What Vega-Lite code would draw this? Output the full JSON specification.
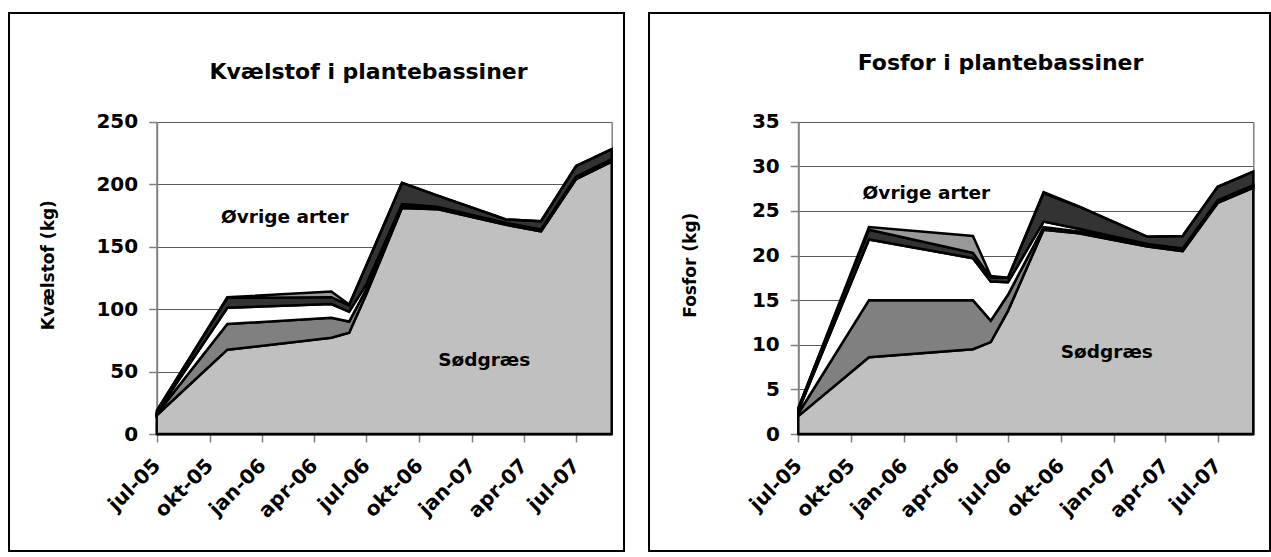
{
  "$schema": "https://vega.github.io/schema/vega-lite/v6.json",
  "background": "white",
  "padding": {"left": 8, "top": 12, "right": 0, "bottom": 0},
  "spacing": 23,
  "config": {
    "view": {"stroke": "#000000", "strokeWidth": 2},
    "font": "DejaVu Sans",
    "axis": {"labelFont": "DejaVu Sans", "titleFont": "DejaVu Sans", "labelColor": "#000000", "titleColor": "#000000"},
    "title": {"font": "DejaVu Sans", "color": "#000000"}
  },
  "datasets": {
    "kvaelstof": [
      {"dato": "2005/07/01", "art": "Sødgræs", "nr": 1, "kg": 15},
      {"dato": "2005/07/01", "art": "Art 2", "nr": 2, "kg": 1},
      {"dato": "2005/07/01", "art": "Art 3", "nr": 3, "kg": 1},
      {"dato": "2005/07/01", "art": "Art 4", "nr": 4, "kg": 1.5},
      {"dato": "2005/07/01", "art": "Art 5", "nr": 5, "kg": 0},
      {"dato": "2005/11/01", "art": "Sødgræs", "nr": 1, "kg": 67.5},
      {"dato": "2005/11/01", "art": "Art 2", "nr": 2, "kg": 20.5},
      {"dato": "2005/11/01", "art": "Art 3", "nr": 3, "kg": 13},
      {"dato": "2005/11/01", "art": "Art 4", "nr": 4, "kg": 8},
      {"dato": "2005/11/01", "art": "Art 5", "nr": 5, "kg": 0.5},
      {"dato": "2006/05/01", "art": "Sødgræs", "nr": 1, "kg": 77},
      {"dato": "2006/05/01", "art": "Art 2", "nr": 2, "kg": 16},
      {"dato": "2006/05/01", "art": "Art 3", "nr": 3, "kg": 11},
      {"dato": "2006/05/01", "art": "Art 4", "nr": 4, "kg": 5.5},
      {"dato": "2006/05/01", "art": "Art 5", "nr": 5, "kg": 4.5},
      {"dato": "2006/06/01", "art": "Sødgræs", "nr": 1, "kg": 81},
      {"dato": "2006/06/01", "art": "Art 2", "nr": 2, "kg": 9},
      {"dato": "2006/06/01", "art": "Art 3", "nr": 3, "kg": 8},
      {"dato": "2006/06/01", "art": "Art 4", "nr": 4, "kg": 5},
      {"dato": "2006/06/01", "art": "Art 5", "nr": 5, "kg": 0.6},
      {"dato": "2006/07/01", "art": "Sødgræs", "nr": 1, "kg": 112},
      {"dato": "2006/07/01", "art": "Art 2", "nr": 2, "kg": 4},
      {"dato": "2006/07/01", "art": "Art 3", "nr": 3, "kg": 4},
      {"dato": "2006/07/01", "art": "Art 4", "nr": 4, "kg": 15},
      {"dato": "2006/07/01", "art": "Art 5", "nr": 5, "kg": 0},
      {"dato": "2006/09/01", "art": "Sødgræs", "nr": 1, "kg": 181},
      {"dato": "2006/09/01", "art": "Art 2", "nr": 2, "kg": 1},
      {"dato": "2006/09/01", "art": "Art 3", "nr": 3, "kg": 2},
      {"dato": "2006/09/01", "art": "Art 4", "nr": 4, "kg": 17},
      {"dato": "2006/09/01", "art": "Art 5", "nr": 5, "kg": 0},
      {"dato": "2006/11/01", "art": "Sødgræs", "nr": 1, "kg": 180},
      {"dato": "2006/11/01", "art": "Art 2", "nr": 2, "kg": 0.5},
      {"dato": "2006/11/01", "art": "Art 3", "nr": 3, "kg": 1.5},
      {"dato": "2006/11/01", "art": "Art 4", "nr": 4, "kg": 9},
      {"dato": "2006/11/01", "art": "Art 5", "nr": 5, "kg": 0},
      {"dato": "2007/03/01", "art": "Sødgræs", "nr": 1, "kg": 167.5},
      {"dato": "2007/03/01", "art": "Art 2", "nr": 2, "kg": 0.5},
      {"dato": "2007/03/01", "art": "Art 3", "nr": 3, "kg": 1},
      {"dato": "2007/03/01", "art": "Art 4", "nr": 4, "kg": 2.7},
      {"dato": "2007/03/01", "art": "Art 5", "nr": 5, "kg": 0},
      {"dato": "2007/05/01", "art": "Sødgræs", "nr": 1, "kg": 162.3},
      {"dato": "2007/05/01", "art": "Art 2", "nr": 2, "kg": 0.5},
      {"dato": "2007/05/01", "art": "Art 3", "nr": 3, "kg": 1},
      {"dato": "2007/05/01", "art": "Art 4", "nr": 4, "kg": 6.6},
      {"dato": "2007/05/01", "art": "Art 5", "nr": 5, "kg": 0},
      {"dato": "2007/07/01", "art": "Sødgræs", "nr": 1, "kg": 204},
      {"dato": "2007/07/01", "art": "Art 2", "nr": 2, "kg": 0.5},
      {"dato": "2007/07/01", "art": "Art 3", "nr": 3, "kg": 1.5},
      {"dato": "2007/07/01", "art": "Art 4", "nr": 4, "kg": 8.5},
      {"dato": "2007/07/01", "art": "Art 5", "nr": 5, "kg": 0},
      {"dato": "2007/09/01", "art": "Sødgræs", "nr": 1, "kg": 218},
      {"dato": "2007/09/01", "art": "Art 2", "nr": 2, "kg": 0.5},
      {"dato": "2007/09/01", "art": "Art 3", "nr": 3, "kg": 1.5},
      {"dato": "2007/09/01", "art": "Art 4", "nr": 4, "kg": 8},
      {"dato": "2007/09/01", "art": "Art 5", "nr": 5, "kg": 0}
    ],
    "fosfor": [
      {"dato": "2005/07/01", "art": "Sødgræs", "nr": 1, "kg": 2.0},
      {"dato": "2005/07/01", "art": "Art 2", "nr": 2, "kg": 0.3},
      {"dato": "2005/07/01", "art": "Art 3", "nr": 3, "kg": 0.3},
      {"dato": "2005/07/01", "art": "Art 4", "nr": 4, "kg": 0.3},
      {"dato": "2005/07/01", "art": "Art 5", "nr": 5, "kg": 0},
      {"dato": "2005/11/01", "art": "Sødgræs", "nr": 1, "kg": 8.6},
      {"dato": "2005/11/01", "art": "Art 2", "nr": 2, "kg": 6.4},
      {"dato": "2005/11/01", "art": "Art 3", "nr": 3, "kg": 6.8},
      {"dato": "2005/11/01", "art": "Art 4", "nr": 4, "kg": 1.1},
      {"dato": "2005/11/01", "art": "Art 5", "nr": 5, "kg": 0.3},
      {"dato": "2006/05/01", "art": "Sødgræs", "nr": 1, "kg": 9.5},
      {"dato": "2006/05/01", "art": "Art 2", "nr": 2, "kg": 5.5},
      {"dato": "2006/05/01", "art": "Art 3", "nr": 3, "kg": 4.7},
      {"dato": "2006/05/01", "art": "Art 4", "nr": 4, "kg": 0.6},
      {"dato": "2006/05/01", "art": "Art 5", "nr": 5, "kg": 1.9},
      {"dato": "2006/06/01", "art": "Sødgræs", "nr": 1, "kg": 10.3},
      {"dato": "2006/06/01", "art": "Art 2", "nr": 2, "kg": 2.4},
      {"dato": "2006/06/01", "art": "Art 3", "nr": 3, "kg": 4.4},
      {"dato": "2006/06/01", "art": "Art 4", "nr": 4, "kg": 0.4},
      {"dato": "2006/06/01", "art": "Art 5", "nr": 5, "kg": 0.2},
      {"dato": "2006/07/01", "art": "Sødgræs", "nr": 1, "kg": 13.8},
      {"dato": "2006/07/01", "art": "Art 2", "nr": 2, "kg": 1.8},
      {"dato": "2006/07/01", "art": "Art 3", "nr": 3, "kg": 1.4},
      {"dato": "2006/07/01", "art": "Art 4", "nr": 4, "kg": 0.5},
      {"dato": "2006/07/01", "art": "Art 5", "nr": 5, "kg": 0},
      {"dato": "2006/09/01", "art": "Sødgræs", "nr": 1, "kg": 22.9},
      {"dato": "2006/09/01", "art": "Art 2", "nr": 2, "kg": 0.3},
      {"dato": "2006/09/01", "art": "Art 3", "nr": 3, "kg": 0.6},
      {"dato": "2006/09/01", "art": "Art 4", "nr": 4, "kg": 3.2},
      {"dato": "2006/09/01", "art": "Art 5", "nr": 5, "kg": 0.1},
      {"dato": "2006/11/01", "art": "Sødgræs", "nr": 1, "kg": 22.5},
      {"dato": "2006/11/01", "art": "Art 2", "nr": 2, "kg": 0.2},
      {"dato": "2006/11/01", "art": "Art 3", "nr": 3, "kg": 0.3},
      {"dato": "2006/11/01", "art": "Art 4", "nr": 4, "kg": 2.5},
      {"dato": "2006/11/01", "art": "Art 5", "nr": 5, "kg": 0},
      {"dato": "2007/03/01", "art": "Sødgræs", "nr": 1, "kg": 21.0},
      {"dato": "2007/03/01", "art": "Art 2", "nr": 2, "kg": 0.1},
      {"dato": "2007/03/01", "art": "Art 3", "nr": 3, "kg": 0.2},
      {"dato": "2007/03/01", "art": "Art 4", "nr": 4, "kg": 0.8},
      {"dato": "2007/03/01", "art": "Art 5", "nr": 5, "kg": 0},
      {"dato": "2007/05/01", "art": "Sødgræs", "nr": 1, "kg": 20.5},
      {"dato": "2007/05/01", "art": "Art 2", "nr": 2, "kg": 0.1},
      {"dato": "2007/05/01", "art": "Art 3", "nr": 3, "kg": 0.2},
      {"dato": "2007/05/01", "art": "Art 4", "nr": 4, "kg": 1.4},
      {"dato": "2007/05/01", "art": "Art 5", "nr": 5, "kg": 0},
      {"dato": "2007/07/01", "art": "Sødgræs", "nr": 1, "kg": 25.9},
      {"dato": "2007/07/01", "art": "Art 2", "nr": 2, "kg": 0.1},
      {"dato": "2007/07/01", "art": "Art 3", "nr": 3, "kg": 0.2},
      {"dato": "2007/07/01", "art": "Art 4", "nr": 4, "kg": 1.5},
      {"dato": "2007/07/01", "art": "Art 5", "nr": 5, "kg": 0},
      {"dato": "2007/09/01", "art": "Sødgræs", "nr": 1, "kg": 27.6},
      {"dato": "2007/09/01", "art": "Art 2", "nr": 2, "kg": 0.1},
      {"dato": "2007/09/01", "art": "Art 3", "nr": 3, "kg": 0.2},
      {"dato": "2007/09/01", "art": "Art 4", "nr": 4, "kg": 1.5},
      {"dato": "2007/09/01", "art": "Art 5", "nr": 5, "kg": 0}
    ],
    "tekst_k": [
      {"dato": "2006/02/09", "kg": 174, "tekst": "Øvrige arter"},
      {"dato": "2007/01/22", "kg": 59.5, "tekst": "Sødgræs"}
    ],
    "tekst_f": [
      {"dato": "2006/02/09", "kg": 27.0, "tekst": "Øvrige arter"},
      {"dato": "2006/12/20", "kg": 9.2, "tekst": "Sødgræs"}
    ]
  },
  "hconcat": [
    {
      "width": 615,
      "height": 538,
      "title": {"text": "Kvælstof i plantebassiner", "anchor": "middle", "frame": "group", "offset": 0, "dx": 52, "dy": 81, "baseline": "middle", "fontSize": 22, "fontWeight": "bold"},
      "resolve": {"axis": {"y": "independent"}},
      "layer": [
        {
          "data": {"name": "kvaelstof"},
          "mark": {"type": "area", "stroke": "#000000", "strokeWidth": 2.5},
          "encoding": {
            "x": {
              "field": "dato", "type": "temporal",
              "scale": {"domain": [{"year": 2005, "month": 7, "date": 1}, {"year": 2007, "month": 9, "date": 1}], "range": [147.7, 602.7], "nice": false},
              "axis": {
                "values": [{"year": 2005, "month": 7, "date": 1}, {"year": 2005, "month": 10, "date": 1}, {"year": 2006, "month": 1, "date": 1}, {"year": 2006, "month": 4, "date": 1}, {"year": 2006, "month": 7, "date": 1}, {"year": 2006, "month": 10, "date": 1}, {"year": 2007, "month": 1, "date": 1}, {"year": 2007, "month": 4, "date": 1}, {"year": 2007, "month": 7, "date": 1}],
                "labelExpr": "['jan','feb','mar','apr','maj','jun','jul','aug','sep','okt','nov','dec'][month(datum.value)] + '-' + timeFormat(datum.value, '%y')",
                "labelAngle": -45, "labelFontSize": 20, "labelFontWeight": "bold", "labelPadding": 13, "labelOffset": -7,
                "labelOverlap": false, "labelFlush": false, "labelBound": false,
                "tickSize": 8, "tickColor": "#808080", "tickWidth": 1.5,
                "domainColor": "#000000", "domainWidth": 2,
                "grid": false, "title": null, "offset": -117
              }
            },
            "y": {
              "field": "kg", "type": "quantitative", "stack": "zero",
              "scale": {"domain": [0, 250], "range": [421, 108.7], "nice": false},
              "axis": {
                "orient": "left", "offset": -147.7,
                "values": [0, 50, 100, 150, 200, 250],
                "grid": true, "gridColor": "#5a5a5a", "gridWidth": 1,
                "domainColor": "#808080", "domainWidth": 2,
                "tickSize": 8, "tickColor": "#808080", "tickWidth": 1.5,
                "labelFontSize": 20, "labelFontWeight": "bold", "labelPadding": 11,
                "labelOverlap": false, "labelFlush": false, "labelBound": false,
                "title": "Kvælstof (kg)", "titleFontSize": 17, "titleFontWeight": "bold",
                "titleX": -108.7, "titleY": 251.7, "titleAngle": -90, "titleAlign": "center", "titleBaseline": "middle"
              }
            },
            "color": {
              "field": "art", "type": "nominal",
              "scale": {"domain": ["Sødgræs", "Art 2", "Art 3", "Art 4", "Art 5"], "range": ["#c0c0c0", "#808080", "#ffffff", "#333333", "#999999"]},
              "legend": null
            },
            "order": {"field": "nr", "type": "quantitative", "sort": "ascending"}
          }
        },
        {
          "data": {"name": "tekst_k"},
          "mark": {"type": "text", "fontSize": 18.5, "fontWeight": "bold", "align": "center", "baseline": "middle", "color": "#000000"},
          "encoding": {
            "x": {"field": "dato", "type": "temporal", "title": null},
            "y": {"field": "kg", "type": "quantitative", "axis": {"orient": "right", "offset": -12.3, "labels": false, "ticks": false, "grid": false, "title": null, "domainColor": "#808080", "domainWidth": 1.5}},
            "text": {"field": "tekst"}
          }
        }
      ]
    },
    {
      "width": 621,
      "height": 538,
      "title": {"text": "Fosfor i plantebassiner", "anchor": "middle", "frame": "group", "offset": 0, "dx": 41, "dy": 72, "baseline": "middle", "fontSize": 22, "fontWeight": "bold"},
      "resolve": {"axis": {"y": "independent"}},
      "layer": [
        {
          "data": {"name": "fosfor"},
          "mark": {"type": "area", "stroke": "#000000", "strokeWidth": 2.5},
          "encoding": {
            "x": {
              "field": "dato", "type": "temporal",
              "scale": {"domain": [{"year": 2005, "month": 7, "date": 1}, {"year": 2007, "month": 9, "date": 1}], "range": [149.3, 604.3], "nice": false},
              "axis": {
                "values": [{"year": 2005, "month": 7, "date": 1}, {"year": 2005, "month": 10, "date": 1}, {"year": 2006, "month": 1, "date": 1}, {"year": 2006, "month": 4, "date": 1}, {"year": 2006, "month": 7, "date": 1}, {"year": 2006, "month": 10, "date": 1}, {"year": 2007, "month": 1, "date": 1}, {"year": 2007, "month": 4, "date": 1}, {"year": 2007, "month": 7, "date": 1}],
                "labelExpr": "['jan','feb','mar','apr','maj','jun','jul','aug','sep','okt','nov','dec'][month(datum.value)] + '-' + timeFormat(datum.value, '%y')",
                "labelAngle": -45, "labelFontSize": 20, "labelFontWeight": "bold", "labelPadding": 13, "labelOffset": -7,
                "labelOverlap": false, "labelFlush": false, "labelBound": false,
                "tickSize": 8, "tickColor": "#808080", "tickWidth": 1.5,
                "domainColor": "#000000", "domainWidth": 2,
                "grid": false, "title": null, "offset": -117
              }
            },
            "y": {
              "field": "kg", "type": "quantitative", "stack": "zero",
              "scale": {"domain": [0, 35], "range": [421, 108.7], "nice": false},
              "axis": {
                "orient": "left", "offset": -149.3,
                "values": [0, 5, 10, 15, 20, 25, 30, 35],
                "grid": true, "gridColor": "#5a5a5a", "gridWidth": 1,
                "domainColor": "#808080", "domainWidth": 2,
                "tickSize": 8, "tickColor": "#808080", "tickWidth": 1.5,
                "labelFontSize": 20, "labelFontWeight": "bold", "labelPadding": 11,
                "labelOverlap": false, "labelFlush": false, "labelBound": false,
                "title": "Fosfor (kg)", "titleFontSize": 17, "titleFontWeight": "bold",
                "titleX": -108.3, "titleY": 251.7, "titleAngle": -90, "titleAlign": "center", "titleBaseline": "middle"
              }
            },
            "color": {
              "field": "art", "type": "nominal",
              "scale": {"domain": ["Sødgræs", "Art 2", "Art 3", "Art 4", "Art 5"], "range": ["#c0c0c0", "#808080", "#ffffff", "#333333", "#999999"]},
              "legend": null
            },
            "order": {"field": "nr", "type": "quantitative", "sort": "ascending"}
          }
        },
        {
          "data": {"name": "tekst_f"},
          "mark": {"type": "text", "fontSize": 18.5, "fontWeight": "bold", "align": "center", "baseline": "middle", "color": "#000000"},
          "encoding": {
            "x": {"field": "dato", "type": "temporal", "title": null},
            "y": {"field": "kg", "type": "quantitative", "axis": {"orient": "right", "offset": -16.7, "labels": false, "ticks": false, "grid": false, "title": null, "domainColor": "#808080", "domainWidth": 1.5}},
            "text": {"field": "tekst"}
          }
        }
      ]
    }
  ]
}
